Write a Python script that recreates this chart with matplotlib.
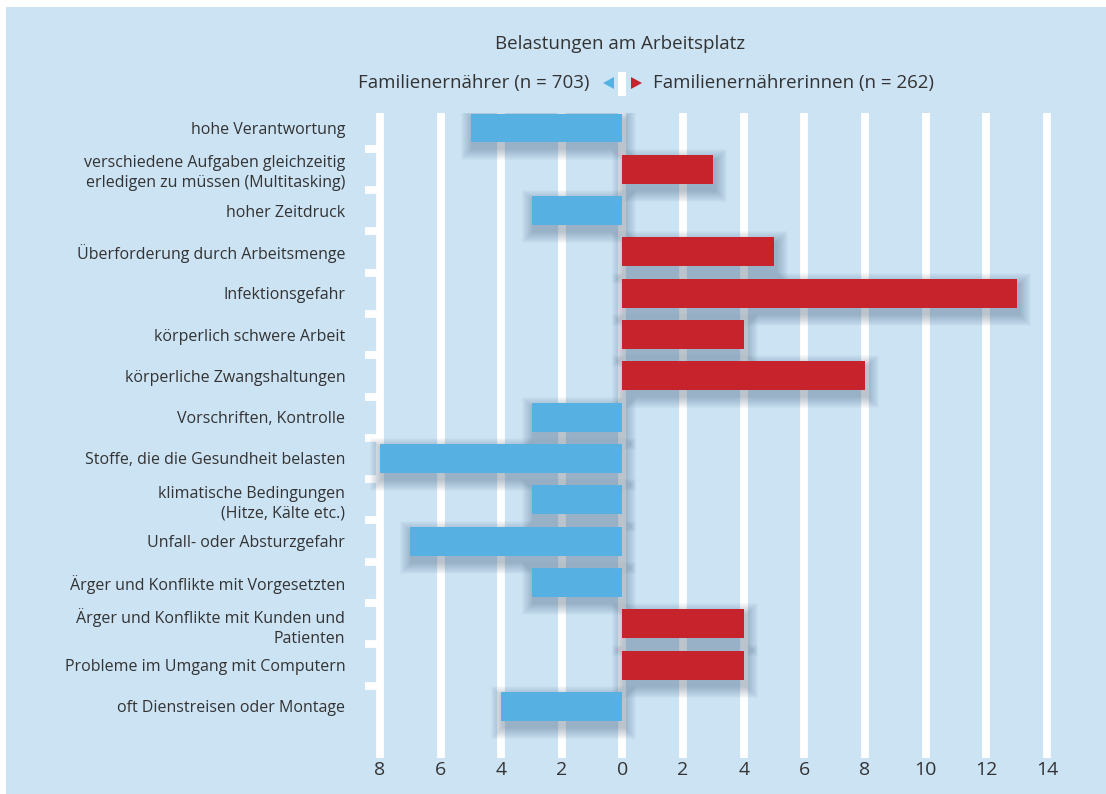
import matplotlib.pyplot as plt
from matplotlib.patches import Rectangle, Polygon

plt.rcParams['font.family'] = ['Open Sans', 'DejaVu Sans']

# Daten
kategorien = [
    'hohe Verantwortung',
    'verschiedene Aufgaben gleichzeitig\nerledigen zu müssen (Multitasking)',
    'hoher Zeitdruck',
    'Überforderung durch Arbeitsmenge',
    'Infektionsgefahr',
    'körperlich schwere Arbeit',
    'körperliche Zwangshaltungen',
    'Vorschriften, Kontrolle',
    'Stoffe, die die Gesundheit belasten',
    'klimatische Bedingungen\n(Hitze, Kälte etc.)',
    'Unfall- oder Absturzgefahr',
    'Ärger und Konflikte mit Vorgesetzten',
    'Ärger und Konflikte mit Kunden und\nPatienten',
    'Probleme im Umgang mit Computern',
    'oft Dienstreisen oder Montage',
]
differenz = [5, 3, 3, 5, 13, 4, 8, 3, 8, 3, 7, 3, 4, 4, 4]
# m = Familienernährer (links), f = Familienernährerinnen (rechts)
gruppe = ['m', 'f', 'm', 'f', 'f', 'f', 'f', 'm', 'm', 'm', 'm', 'm', 'f', 'f', 'm']
ticks = [-8, -6, -4, -2, 0, 2, 4, 6, 8, 10, 12, 14]

titel = 'Belastungen am Arbeitsplatz'
label_m = 'Familienernährer (n = 703)'
label_f = 'Familienernährerinnen (n = 262)'

hintergrund = '#cce3f4'
blau = '#56b0e2'
rot = '#c7232c'
text_farbe = '#333333'

W, H = 1106, 794
fig = plt.figure(figsize=(W / 100, H / 100), dpi=100)


def fx(x):
    return x / W


def fy(y):
    return 1 - y / H


# Hintergrundfläche
fig.add_artist(Rectangle((fx(6), 0), 1, fy(7), transform=fig.transFigure,
                         facecolor=hintergrund, edgecolor='none', zorder=0))

links, rechts, oben, unten = 364.8, 1056, 113, 758
ax = fig.add_axes([fx(links), fy(unten), fx(rechts - links), fy(oben) - fy(unten)])
ax.set_facecolor('none')
ax.set_xlim(-8.5, 14.3)
ax.set_ylim(15.25, -0.363)
for s in ax.spines.values():
    s.set_visible(False)

# weiße Gitterlinien
for t in ticks:
    ax.axvline(t, color='white', lw=5.6, solid_capstyle='butt', zorder=1)
for i in range(len(kategorien) - 1):
    ax.hlines(i + 0.5, -8.5, -8, color='white', lw=5.6, zorder=1)

px_x = (ticks[-1] - ticks[0]) / (1047 - 380)
px_y = 1 / 41.3
hoehe = 0.7

for i, (v, g) in enumerate(zip(differenz, gruppe)):
    breite = -v if g == 'm' else v
    farbe = blau if g == 'm' else rot
    x0 = min(0, breite)
    # weicher Schatten
    for k in range(1, 13):
        ax.add_patch(Rectangle((x0 + 2 * px_x - k * px_x, i - hoehe / 2 + 6 * px_y - k * px_y),
                               abs(breite) + 2 * k * px_x, hoehe + 2 * k * px_y,
                               facecolor='#3a5570', edgecolor='none', alpha=0.03, zorder=2))
    ax.barh(i, breite, height=hoehe, color=farbe, zorder=3)

ax.set_yticks(range(len(kategorien)))
ax.set_yticklabels(kategorien, fontsize=11.5, color=text_farbe, linespacing=1.3)
ax.set_xticks(ticks)
ax.set_xticklabels([str(abs(t)) for t in ticks], fontsize=14, color=text_farbe)
ax.tick_params(axis='y', length=0, pad=14)
ax.tick_params(axis='x', length=0, pad=2)

# Titel und Legende
fig.text(fx(620), fy(44), titel, ha='center', va='center', fontsize=13.5, color=text_farbe)
fig.text(fx(590), fy(83), label_m, ha='right', va='center', fontsize=13.5, color=text_farbe)
fig.text(fx(653), fy(83), label_f, ha='left', va='center', fontsize=13.5, color=text_farbe)
fig.add_artist(Polygon([(fx(603), fy(83)), (fx(614), fy(77)), (fx(614), fy(89))],
                       transform=fig.transFigure, facecolor=blau, edgecolor='none'))
fig.add_artist(Rectangle((fx(618), fy(96)), fx(8), fy(72) - fy(96),
                         transform=fig.transFigure, facecolor='white', edgecolor='none'))
fig.add_artist(Polygon([(fx(642), fy(83)), (fx(631), fy(77)), (fx(631), fy(89))],
                       transform=fig.transFigure, facecolor=rot, edgecolor='none'))

fig.savefig('out.png', dpi=100, facecolor='white')
